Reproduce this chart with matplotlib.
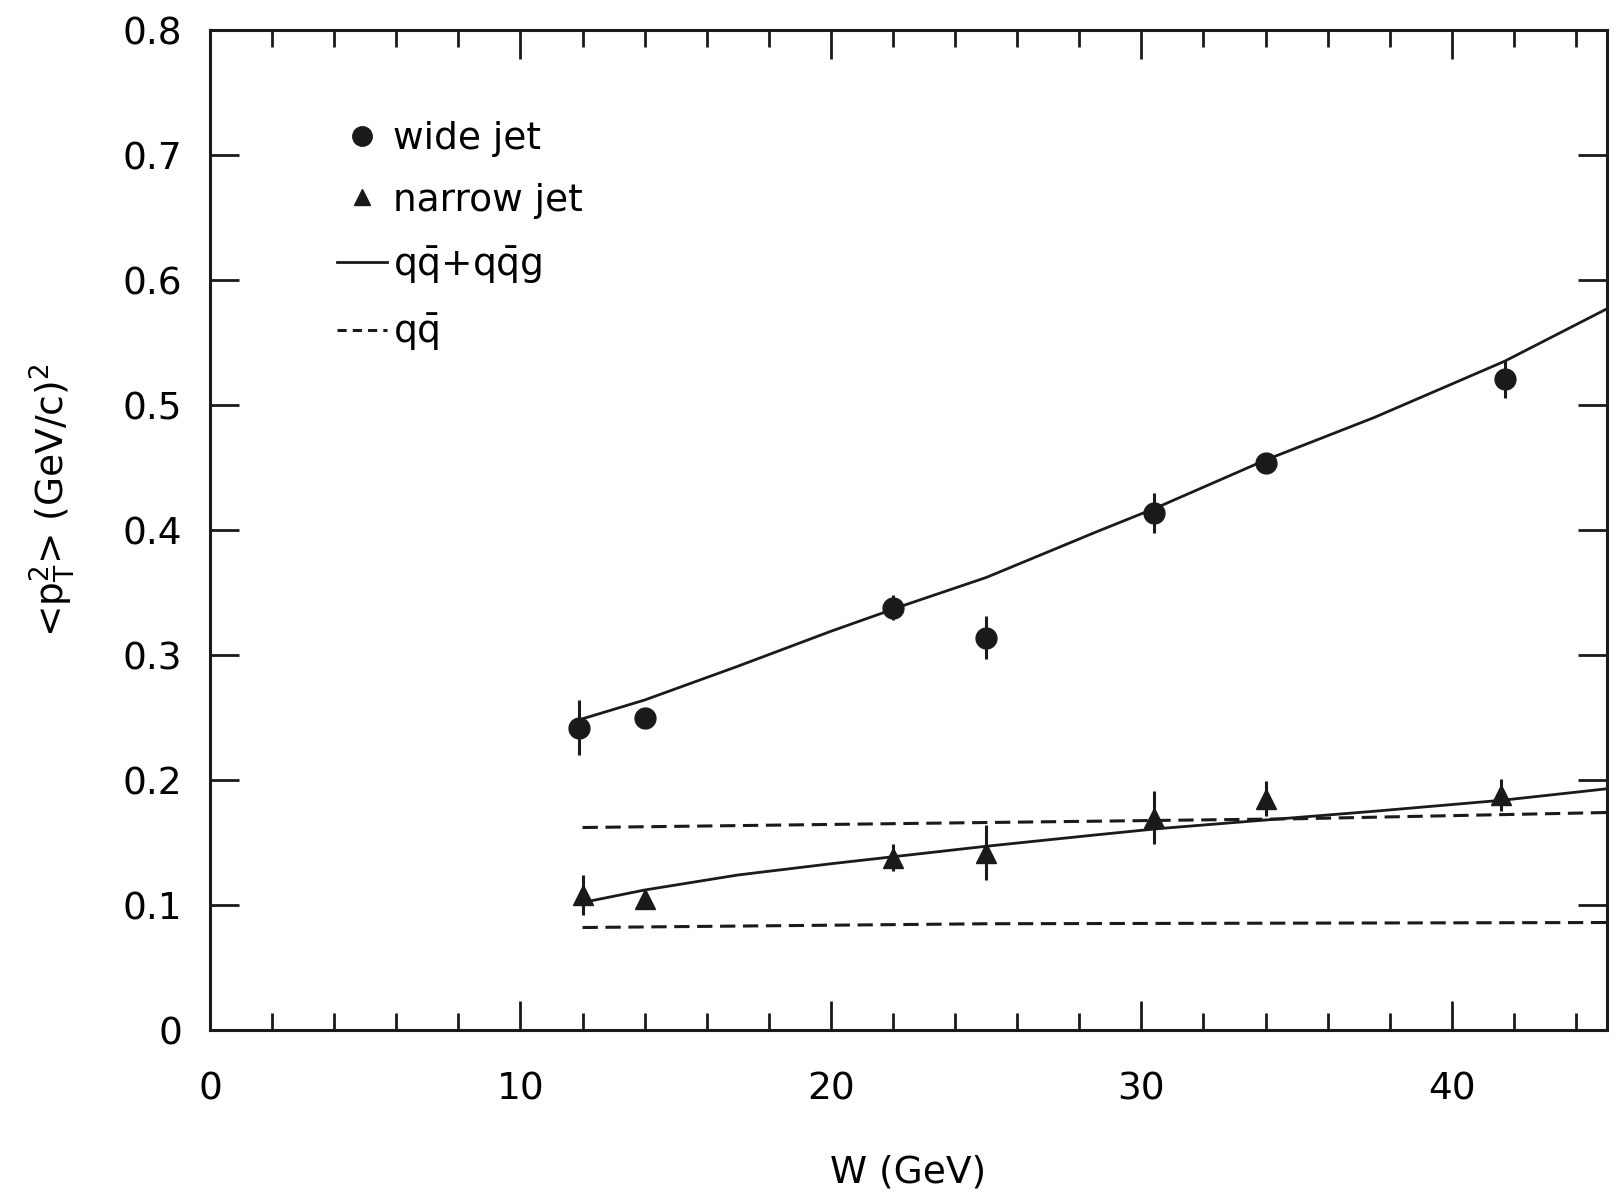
import matplotlib
matplotlib.use("Agg")
import matplotlib.pyplot as plt
from matplotlib.lines import Line2D
from matplotlib.ticker import MultipleLocator

plt.rcParams["font.family"] = ["DejaVu Sans"]
plt.rcParams["mathtext.fontset"] = "dejavusans"

# ----- Daten -----------------------------------------------------------------

W_WIDE = [11.9, 14.0, 22.0, 25.0, 30.4, 34.0, 41.7]
PT2_WIDE = [0.242, 0.250, 0.338, 0.314, 0.414, 0.454, 0.521]
ERR_WIDE = [0.022, 0.0, 0.010, 0.017, 0.016, 0.0, 0.015]

W_NARROW = [12.0, 14.0, 22.0, 25.0, 30.4, 34.0, 41.6]
PT2_NARROW = [0.108, 0.105, 0.138, 0.142, 0.170, 0.185, 0.188]
ERR_NARROW = [0.016, 0.0, 0.011, 0.022, 0.021, 0.014, 0.013]

# qq + qqg Kurven
W_FIT = [12, 14, 17, 20, 22.5, 25, 28.5, 30.5, 34, 37.5, 41.7, 45]
FIT_WIDE = [0.249, 0.264, 0.291, 0.319, 0.341, 0.362, 0.398, 0.418, 0.456,
            0.490, 0.535, 0.577]
FIT_NARROW = [0.102, 0.112, 0.124, 0.133, 0.140, 0.147, 0.156, 0.161, 0.168,
              0.175, 0.184, 0.193]

# nur qq Kurven
W_QQ = [12, 25, 35, 45]
QQ_UPPER = [0.162, 0.166, 0.169, 0.174]
QQ_LOWER = [0.082, 0.085, 0.0855, 0.086]

INK = "#1a1a1a"
FS = 27

fig = plt.figure(figsize=(16.17, 11.92), dpi=100)
ax = fig.add_axes([0.1299, 0.1359, 0.8639, 0.8389])

ax.plot(W_FIT, FIT_WIDE, color=INK, lw=2.0)
ax.plot(W_FIT, FIT_NARROW, color=INK, lw=2.0)
ax.plot(W_QQ, QQ_UPPER, color=INK, lw=2.2, ls=(0, (5, 2.5)))
ax.plot(W_QQ, QQ_LOWER, color=INK, lw=2.2, ls=(0, (5, 2.5)))

ax.errorbar(W_WIDE, PT2_WIDE, yerr=ERR_WIDE, fmt="o", color=INK, ms=15,
            elinewidth=2.2, capsize=0)
ax.errorbar(W_NARROW, PT2_NARROW, yerr=ERR_NARROW, fmt="^", color=INK, ms=14,
            elinewidth=2.2, capsize=0)

ax.set_xlim(0, 45)
ax.set_ylim(0, 0.8)
ax.xaxis.set_major_locator(MultipleLocator(10))
ax.xaxis.set_minor_locator(MultipleLocator(2))
ax.yaxis.set_major_locator(MultipleLocator(0.1))
ax.yaxis.set_major_formatter(lambda v, p: "0" if abs(v) < 1e-9 else f"{v:.1f}")

ax.tick_params(axis="x", which="major", direction="in", top=True, length=21,
               width=2, pad=30, labelsize=FS, color=INK)
ax.tick_params(axis="x", which="minor", direction="in", top=True, length=12,
               width=2, color=INK)
ax.tick_params(axis="y", which="major", direction="in", right=True, length=21,
               width=2, pad=20, labelsize=FS, color=INK)
for sp in ax.spines.values():
    sp.set_linewidth(2.2)
    sp.set_color(INK)

ax.set_xlabel("W (GeV)", fontsize=FS, labelpad=34)
ax.set_ylabel(r"<$\mathrm{p_T^2}$> (GeV/c)$^2$", fontsize=FS)
ax.yaxis.set_label_coords(-0.095, 0.53)

# Legende von Hand, wie im Original
handles = [
    Line2D([], [], ls="none", marker="o", ms=14, color=INK),
    Line2D([], [], ls="none", marker="^", ms=12, color=INK),
    Line2D([], [], color=INK, lw=2.0),
    Line2D([], [], color=INK, lw=2.2, ls=(0, (3, 2))),
]
labels = ["wide jet", "narrow jet",
          r"$\mathrm{q\bar{q}}$+$\mathrm{q\bar{q}g}$", r"$\mathrm{q\bar{q}}$"]
leg = ax.legend(handles, labels, loc="upper left", bbox_to_anchor=(0.08, 0.924),
                frameon=False, fontsize=FS, handlelength=1.35, handletextpad=0.15,
                labelspacing=0.68, borderaxespad=0)

fig.savefig("out.png", dpi=100)
